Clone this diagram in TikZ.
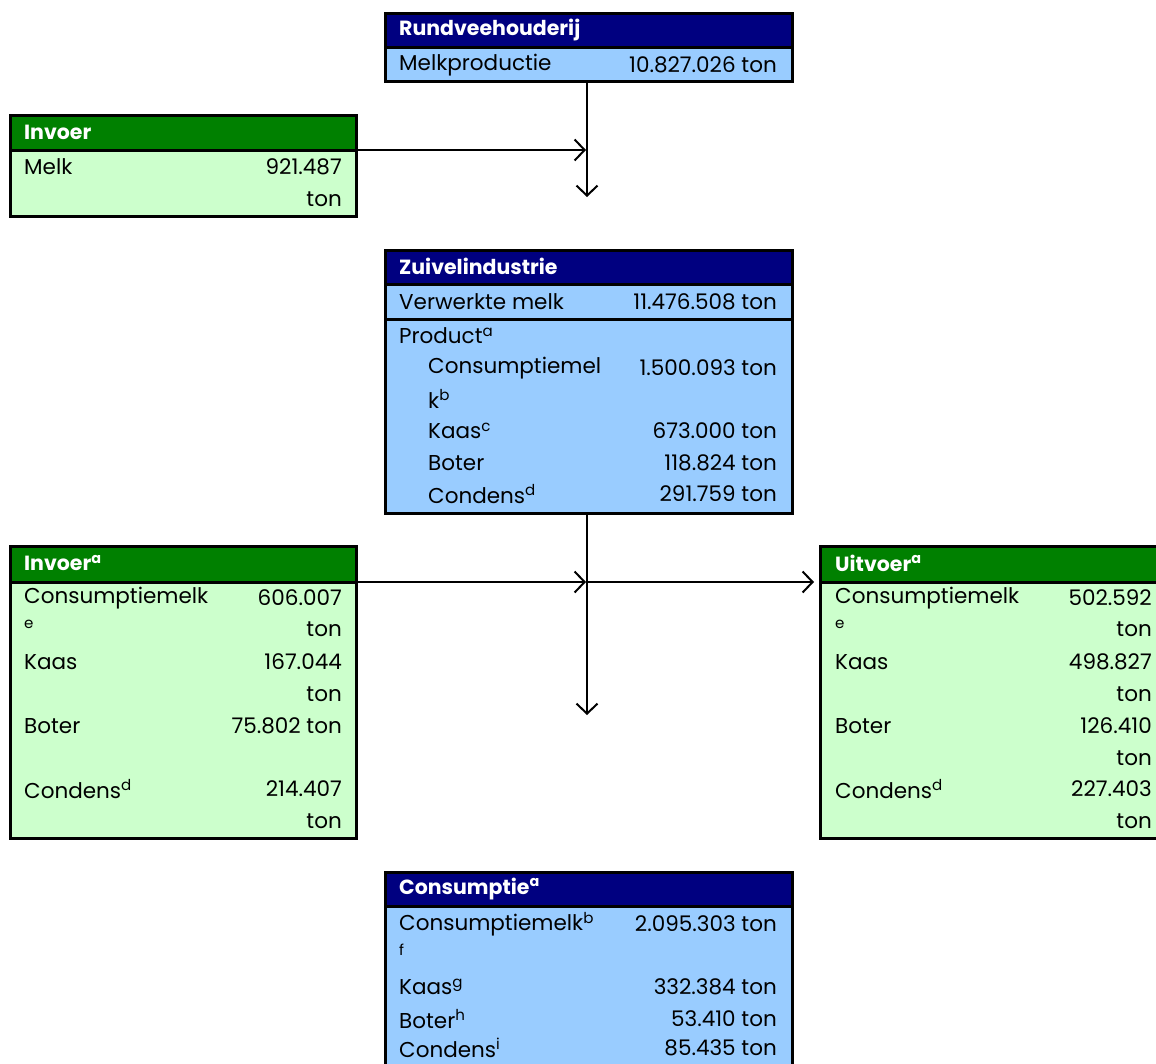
\documentclass[tikz,border=0pt]{standalone}
\usepackage{fontspec}
\setmainfont{Poppins}
\usetikzlibrary{arrows.meta}
\definecolor{navyH}{HTML}{000080}
\definecolor{blueB}{HTML}{99CCFF}
\definecolor{greenH}{HTML}{008000}
\definecolor{greenB}{HTML}{CCFFCC}
\tikzset{
  boxbody/.style={draw=black, line width=3pt, anchor=north west, inner sep=0pt, outer sep=0pt},
  hdr/.style={draw=black, line width=3pt, anchor=north west, inner sep=0pt, outer sep=0pt},
  txt/.style={anchor=west, inner sep=0pt, font=\fontsize{21.5}{24}\selectfont, text=black},
  num/.style={anchor=east, inner sep=0pt, font=\fontsize{21.5}{24}\selectfont, text=black},
  htxt/.style={anchor=west, inner sep=0pt, font=\fontsize{20.5}{24}\selectfont\bfseries, text=white},
  flow/.style={line width=2pt, -{Straight Barb[length=10pt, width=21pt, line width=2pt]}}
}
\begin{document}
\begin{tikzpicture}[x=1pt, y=-1pt]
\useasboundingbox (0,0) rectangle (1156,1063);
\begin{scope}
\clip (0,0) rectangle (1156,1063);
% Rundveehouderij
\node[boxbody, fill=blueB, minimum width=407pt, minimum height=68pt] (rund) at (385,13) {};
\node[hdr, fill=navyH, minimum width=407pt, minimum height=34pt] (rundH) at (385,13) {};
\node[htxt] (t1) at (399,30) {Rundveehouderij};
\node[txt] (t2) at (399,65) {Melkproductie};
\node[num] (t3) at (777,65) {10.827.026 ton};

% Invoer
\node[boxbody, fill=greenB, minimum width=346pt, minimum height=101pt] (inv1) at (10,115) {};
\node[hdr, fill=greenH, minimum width=346pt, minimum height=35pt] (inv1H) at (10,115) {};
\node[htxt] (t4) at (24,132) {Invoer};
\node[txt] (t5) at (24,167) {Melk};
\node[num] (t6) at (342,167) {921.487};
\node[num] (t7) at (342,199) {ton};

% Zuivelindustrie
\node[boxbody, fill=blueB, minimum width=407pt, minimum height=263pt] (zuiv) at (385,250) {};
\node[hdr, fill=navyH, minimum width=407pt, minimum height=34pt] (zuivH) at (385,250) {};
\node[boxbody, minimum width=407pt, minimum height=35pt] (zuivR) at (385,284) {};
\node[htxt] (z1) at (399,266) {Zuivelindustrie};
\node[txt] (z2) at (399,302) {Verwerkte melk};
\node[num] (z3) at (777,302) {11.476.508 ton};
\node[txt] (z4) at (399,336) {Product\textsuperscript{a}};
\node[txt] (z5) at (428,368) {Consumptiemel};
\node[num] (z6) at (777,368) {1.500.093 ton};
\node[txt] (z7) at (428,399) {k\textsuperscript{b}};
\node[txt] (z8) at (428,431) {Kaas\textsuperscript{c}};
\node[num] (z9) at (777,431) {673.000 ton};
\node[txt] (z10) at (428,463) {Boter};
\node[num] (z11) at (777,463) {118.824 ton};
\node[txt] (z12) at (428,494) {Condens\textsuperscript{d}};
\node[num] (z13) at (777,494) {291.759 ton};

% Invoer a
\node[boxbody, fill=greenB, minimum width=346pt, minimum height=292pt] (inv2) at (10,546) {};
\node[hdr, fill=greenH, minimum width=346pt, minimum height=36pt] (inv2H) at (10,546) {};
\node[htxt] (i1) at (24,563) {Invoer\textsuperscript{a}};
\node[txt] (i2) at (24,598) {Consumptiemelk};
\node[num] (i3) at (342,598) {606.007};
\node[txt] (i4) at (24,628) {\textsuperscript{e}};
\node[num] (i5) at (342,629) {ton};
\node[txt] (i6) at (24,662) {Kaas};
\node[num] (i7) at (342,662) {167.044};
\node[num] (i8) at (342,694) {ton};
\node[txt] (i9) at (24,726) {Boter};
\node[num] (i10) at (342,726) {75.802 ton};
\node[txt] (i11) at (24,789) {Condens\textsuperscript{d}};
\node[num] (i12) at (342,789) {214.407};
\node[num] (i13) at (342,821) {ton};

% Uitvoer a
\node[boxbody, fill=greenB, minimum width=346pt, minimum height=292pt] (uit) at (820,546) {};
\node[hdr, fill=greenH, minimum width=346pt, minimum height=36pt] (uitH) at (820,546) {};
\node[htxt] (u1) at (835,563) {Uitvoer\textsuperscript{a}};
\node[txt] (u2) at (835,598) {Consumptiemelk};
\node[num] (u3) at (1152,598) {502.592};
\node[txt] (u4) at (835,628) {\textsuperscript{e}};
\node[num] (u5) at (1152,629) {ton};
\node[txt] (u6) at (835,662) {Kaas};
\node[num] (u7) at (1152,662) {498.827};
\node[num] (u8) at (1152,694) {ton};
\node[txt] (u9) at (835,726) {Boter};
\node[num] (u10) at (1152,726) {126.410};
\node[num] (u11) at (1152,758) {ton};
\node[txt] (u12) at (835,789) {Condens\textsuperscript{d}};
\node[num] (u13) at (1152,789) {227.403};
\node[num] (u14) at (1152,821) {ton};

% Consumptie a
\node[boxbody, fill=blueB, minimum width=407pt, minimum height=200pt] (cons) at (385,872) {};
\node[hdr, fill=navyH, minimum width=407pt, minimum height=34pt] (consH) at (385,872) {};
\node[htxt] (c1) at (399,889) {Consumptie\textsuperscript{a}};
\node[txt] (c2) at (399,924) {Consumptiemelk\textsuperscript{b}};
\node[num] (c3) at (777,924) {2.095.303 ton};
\node[txt] (c4) at (399,953) {\textsuperscript{f}};
\node[txt] (c5) at (399,987) {Kaas\textsuperscript{g}};
\node[num] (c6) at (777,987) {332.384 ton};
\node[txt] (c7) at (399,1019) {Boter\textsuperscript{h}};
\node[num] (c8) at (777,1019) {53.410 ton};
\node[txt] (c9) at (399,1048) {Condens\textsuperscript{i}};
\node[num] (c10) at (777,1048) {85.435 ton};
\end{scope}

% connectors
\coordinate (a1top) at (587,81);
\coordinate (a1end) at (587,197);
\coordinate (a1join) at (586,150);
\coordinate (inv1out) at (358,150);
\draw[flow] (a1top) -- (a1end);
\draw[flow] (inv1out) -- (a1join);

\coordinate (a2top) at (587,513);
\coordinate (a2end) at (587,715);
\coordinate (a2join) at (586,582);
\coordinate (a2split) at (587,582);
\coordinate (inv2out) at (358,582);
\coordinate (uitin) at (814,582);
\draw[flow] (a2top) -- (a2end);
\draw[flow] (inv2out) -- (a2join);
\draw[flow] (a2split) -- (uitin);
\end{tikzpicture}
\end{document}
